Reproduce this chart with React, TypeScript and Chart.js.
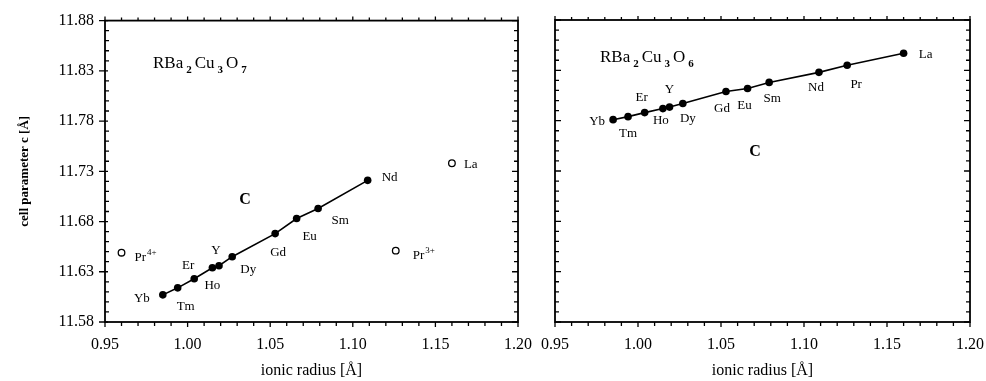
import { useEffect, useRef } from "react";
import { Chart, registerables } from "chart.js";

Chart.register(...registerables);

// ---- data: RBa2Cu3O7 (left panel) ----
const elements7 = ["Yb", "Tm", "Er", "Ho", "Y", "Dy", "Gd", "Eu", "Sm", "Nd"];
const radius7 = [0.985, 0.994, 1.004, 1.015, 1.019, 1.027, 1.053, 1.066, 1.079, 1.109];
const c7 = [11.607, 11.614, 11.623, 11.634, 11.636, 11.645, 11.668, 11.683, 11.693, 11.721];
const openNames7 = ["Pr", "Pr", "La"];
const openSup7 = ["4+", "3+", ""];
const openRadius7 = [0.96, 1.126, 1.16];
const openC7 = [11.649, 11.651, 11.738];

// ---- data: RBa2Cu3O6 (right panel) ----
const elements6 = ["Yb", "Tm", "Er", "Ho", "Y", "Dy", "Gd", "Eu", "Sm", "Nd", "Pr", "La"];
const radius6 = [0.985, 0.994, 1.004, 1.015, 1.019, 1.027, 1.053, 1.066, 1.079, 1.109, 1.126, 1.16];
const c6 = [11.781, 11.784, 11.788, 11.792, 11.7935, 11.797, 11.809, 11.812, 11.818, 11.828, 11.835, 11.847];

// ---- axes ----
const xMin = 0.95;
const xMax = 1.2;
const yMin = 11.58;
const yMax = 11.88;
const xTickLabels = [0.95, 1.0, 1.05, 1.1, 1.15, 1.2];
const yTickLabels = [11.58, 11.63, 11.68, 11.73, 11.78, 11.83, 11.88];
const xMinorTicks = Array.from({ length: 26 }, (_, i) => (95 + i) / 100);
const yMinorTicks = Array.from({ length: 31 }, (_, i) => (1158 + i) / 100);

// ---- label placement (pixel offsets from each point) ----
const offsets7 = [[-21, 4], [8, 19], [-6, -13], [0, 18], [-3, -15], [16, 13], [3, 19], [13, 18], [22, 12], [22, -3]];
const openOffsets7 = [[13, 5], [17, 5], [12, 1]];
const offsets6 = [[-16, 2], [0, 17], [-3, -15], [-2, 12], [0, -17], [5, 15], [-4, 17], [-3, 17], [3, 16], [-3, 15], [9, 19], [22, 1]];

const SERIF = "'Liberation Serif', 'DejaVu Serif', serif";
const INK = "#000";

function drawFormula(ctx: CanvasRenderingContext2D, x: number, y: number, sub: string) {
  const parts: [string, boolean][] = [["RBa", false], ["2", true], ["Cu", false], ["3", true], ["O", false], [sub, true]];
  let cx = x;
  ctx.textAlign = "left";
  ctx.textBaseline = "alphabetic";
  for (const [t, isSub] of parts) {
    ctx.font = isSub ? `bold 11px ${SERIF}` : `17px ${SERIF}`;
    ctx.fillText(t, cx, isSub ? y + 5 : y);
    cx += ctx.measureText(t).width + 3;
  }
}

function makePlugin(side: "left" | "right") {
  return {
    id: "frameAndLabels" + side,
    beforeDatasetsDraw(chart: any) {
      const { ctx, chartArea } = chart;
      const { left, right, top, bottom } = chartArea;
      const xs = chart.scales.x;
      const ys = chart.scales.y;
      ctx.save();
      ctx.strokeStyle = INK;
      ctx.lineWidth = 1.8;
      ctx.strokeRect(left, top, right - left, bottom - top);
      ctx.lineWidth = 1.3;
      ctx.beginPath();
      for (const v of xMinorTicks) {
        const major = Math.abs(Math.round(v * 100) % 5) === 0;
        const px = xs.getPixelForValue(v);
        ctx.moveTo(px, bottom);
        ctx.lineTo(px, bottom + (major ? 5 : 4));
        ctx.moveTo(px, top);
        ctx.lineTo(px, top - (major ? 4 : 3));
      }
      for (const v of yMinorTicks) {
        const major = Math.abs(Math.round(v * 100) % 5) === 3;
        const py = ys.getPixelForValue(v);
        if (side === "left") {
          ctx.moveTo(left - (major ? 6 : 0), py);
          ctx.lineTo(left + (major ? 3 : 4), py);
        } else {
          ctx.moveTo(left, py);
          ctx.lineTo(left + (major ? 6 : 4), py);
        }
        ctx.moveTo(right, py);
        ctx.lineTo(right - (major ? 6 : 4), py);
      }
      ctx.stroke();
      ctx.restore();
    },
    afterDatasetsDraw(chart: any) {
      const { ctx } = chart;
      const xs = chart.scales.x;
      const ys = chart.scales.y;
      ctx.save();
      ctx.fillStyle = INK;
      ctx.textBaseline = "middle";
      ctx.textAlign = "center";
      ctx.font = `13px ${SERIF}`;
      if (side === "left") {
        elements7.forEach((n, i) => {
          const px = xs.getPixelForValue(radius7[i]);
          const py = ys.getPixelForValue(c7[i]);
          ctx.fillText(n, px + offsets7[i][0], py + offsets7[i][1]);
        });
        openNames7.forEach((n, i) => {
          const px = xs.getPixelForValue(openRadius7[i]) + openOffsets7[i][0];
          const py = ys.getPixelForValue(openC7[i]) + openOffsets7[i][1];
          ctx.textAlign = "left";
          ctx.font = `13px ${SERIF}`;
          ctx.fillText(n, px, py);
          if (openSup7[i]) {
            const w = ctx.measureText(n).width;
            ctx.font = `9px ${SERIF}`;
            ctx.fillText(openSup7[i], px + w + 1, py - 5);
          }
        });
        drawFormula(ctx, 153, 68, "7");
        ctx.font = `bold 16px ${SERIF}`;
        ctx.textAlign = "center";
        ctx.textBaseline = "middle";
        ctx.fillText("C", 245, 200);
      } else {
        elements6.forEach((n, i) => {
          const px = xs.getPixelForValue(radius6[i]);
          const py = ys.getPixelForValue(c6[i]);
          ctx.fillText(n, px + offsets6[i][0], py + offsets6[i][1]);
        });
        drawFormula(ctx, 600 - 530, 62, "6");
        ctx.font = `bold 16px ${SERIF}`;
        ctx.textAlign = "center";
        ctx.textBaseline = "middle";
        ctx.fillText("C", 755 - 530, 152);
      }
      ctx.restore();
    },
  };
}

function baseScales(showY: boolean) {
  return {
    x: {
      type: "linear",
      min: xMin,
      max: xMax,
      position: "bottom",
      afterBuildTicks: (s: any) => {
        s.ticks = xTickLabels.map((v) => ({ value: v }));
      },
      afterFit: (s: any) => {
        s.height = 59;
      },
      grid: { display: false, drawTicks: false },
      border: { display: false },
      ticks: {
        color: INK,
        font: { family: SERIF, size: 16, lineHeight: 2.8 },
        padding: 0,
        maxRotation: 0,
        autoSkip: false,
        callback: (v: any) => Number(v).toFixed(2),
      },
      title: {
        display: true,
        text: "ionic radius [Å]",
        color: INK,
        font: { family: SERIF, size: 16 },
        padding: { top: 0, bottom: 1 },
      },
    },
    y: {
      type: "linear",
      min: yMin,
      max: yMax,
      display: showY,
      afterBuildTicks: (s: any) => {
        s.ticks = yTickLabels.map((v) => ({ value: v }));
      },
      afterFit: (s: any) => {
        if (showY) s.width = 105;
      },
      grid: { display: false, drawTicks: false },
      border: { display: false },
      ticks: {
        color: INK,
        font: { family: SERIF, size: 16 },
        padding: 11,
        autoSkip: false,
        callback: (v: any) => Number(v).toFixed(2),
      },
      title: {
        display: showY,
        text: "cell parameter c [Å]",
        color: INK,
        font: { family: SERIF, size: 13, weight: "bold" },
        padding: { top: 17, bottom: 0 },
      },
    },
  };
}

const lineStyle = {
  showLine: true,
  borderColor: INK,
  borderWidth: 1.6,
  backgroundColor: INK,
  pointBackgroundColor: INK,
  pointBorderColor: INK,
  pointRadius: 3.8,
  pointBorderWidth: 0,
};

export default function App() {
  const leftRef = useRef<HTMLCanvasElement>(null);
  const rightRef = useRef<HTMLCanvasElement>(null);

  useEffect(() => {
    const left = new Chart(leftRef.current as HTMLCanvasElement, {
      type: "scatter",
      data: {
        datasets: [
          { ...lineStyle, data: radius7.map((r, i) => ({ x: r, y: c7[i] })) },
          {
            showLine: false,
            data: openRadius7.map((r, i) => ({ x: r, y: openC7[i] })),
            pointRadius: 3.3,
            pointBorderWidth: 1.3,
            pointBorderColor: INK,
            pointBackgroundColor: "#fff",
          },
        ],
      } as any,
      options: {
        responsive: false,
        animation: false,
        layout: { padding: { top: 20, right: 27, left: 0, bottom: 0 } },
        plugins: { legend: { display: false }, tooltip: { enabled: false } },
        scales: baseScales(true) as any,
      },
      plugins: [makePlugin("left")],
    });
    const right = new Chart(rightRef.current as HTMLCanvasElement, {
      type: "scatter",
      data: {
        datasets: [{ ...lineStyle, data: radius6.map((r, i) => ({ x: r, y: c6[i] })) }],
      } as any,
      options: {
        responsive: false,
        animation: false,
        layout: { padding: { top: 20, right: 16, left: 25, bottom: 0 } },
        plugins: { legend: { display: false }, tooltip: { enabled: false } },
        scales: baseScales(false) as any,
      },
      plugins: [makePlugin("right")],
    });
    return () => {
      left.destroy();
      right.destroy();
    };
  }, []);

  return (
    <div style={{ position: "fixed", left: 0, top: 0, width: 986, height: 381, background: "#fff" }}>
      <canvas ref={leftRef} width={545} height={381} style={{ position: "absolute", left: 0, top: 0 }} />
      <canvas ref={rightRef} width={456} height={381} style={{ position: "absolute", left: 530, top: 0 }} />
    </div>
  );
}
